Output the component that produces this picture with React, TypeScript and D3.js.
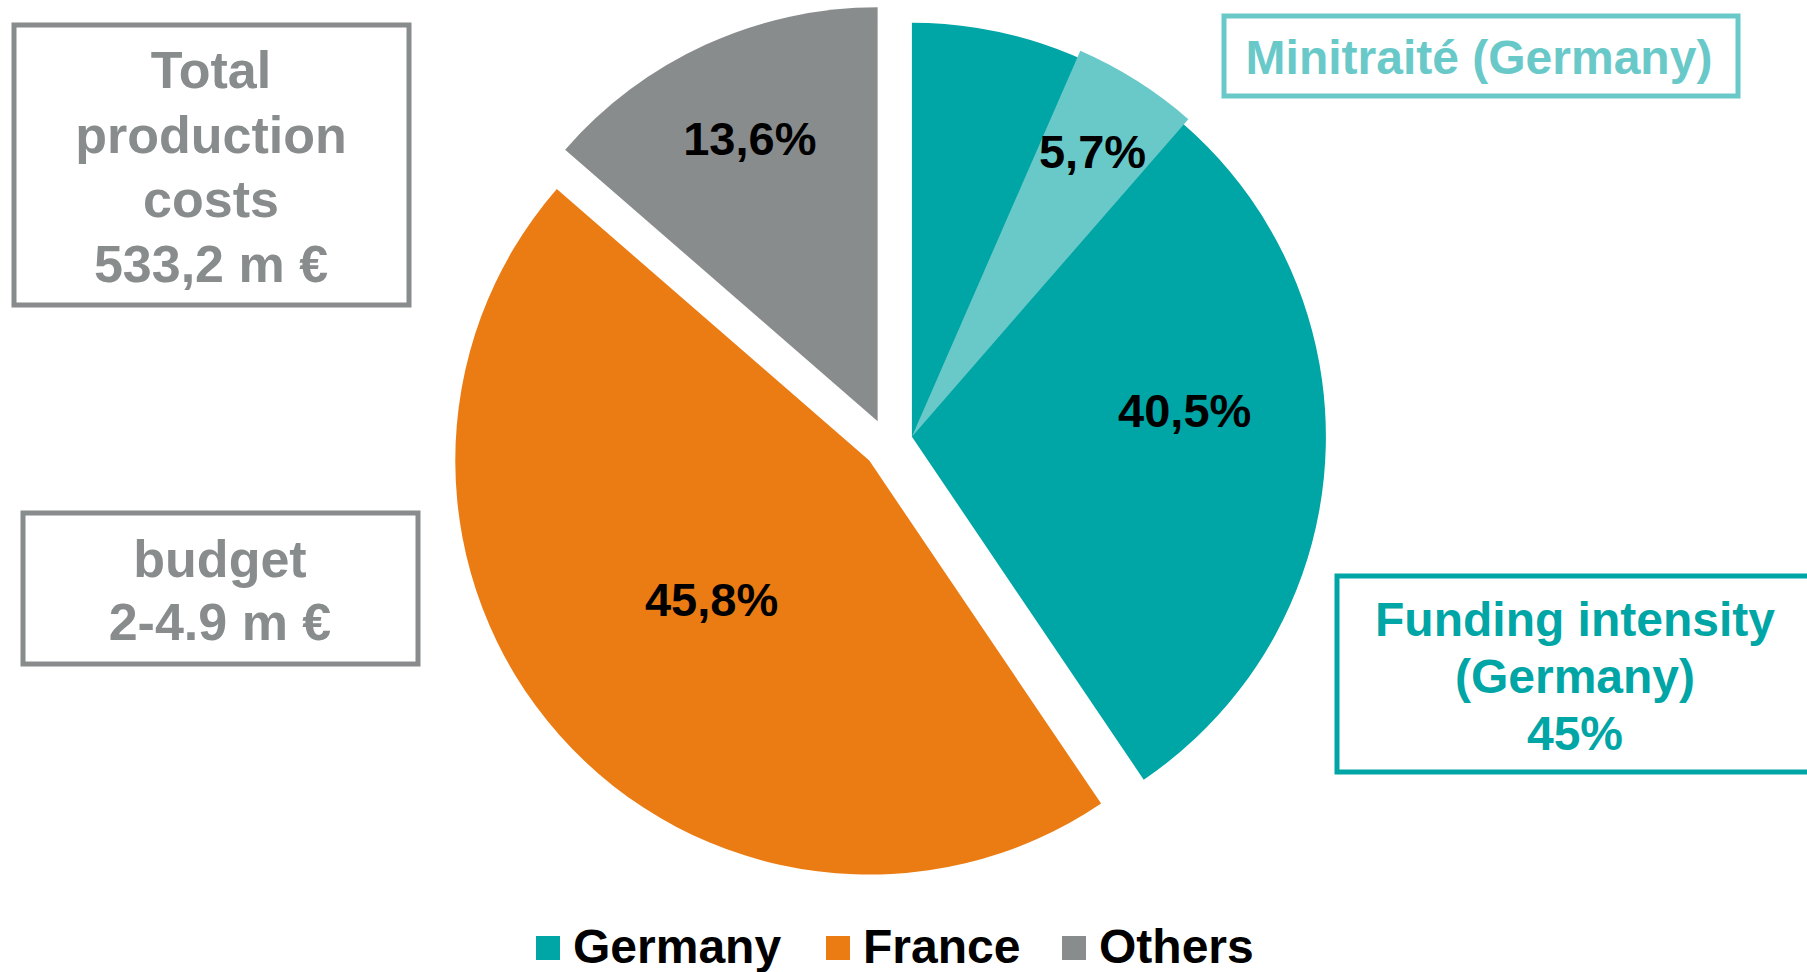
import React from "react";
import * as d3 from "d3";

// ---- data ----
const categories = ["Germany", "France", "Others"];
const shares = [40.5, 45.8, 13.6];
const shareLabels = ["40,5%", "45,8%", "13,6%"];
const colors = ["#00A5A6", "#EB7C14", "#898C8D"];

// Minitraité sub-share inside the Germany slice (as % of full circle)
const minitraiteLabel = "5,7%";
const minitraiteStartPct = 6.55;
const minitraiteEndPct = 11.4;
const minitraiteColor = "#69C9C9";

const totalBoxLines = ["Total", "production", "costs", "533,2 m €"];
const budgetBoxLines = ["budget", "2-4.9 m €"];
const minitraiteBoxLines = ["Minitraité (Germany)"];
const fundingBoxLines = ["Funding intensity", "(Germany)", "45%"];

// ---- layout ----
const W = 1807;
const H = 972;
const CX = 888;
const CY = 444;
const R = 414;
const EXPLODE = 25;
const FONT = "'Liberation Sans', Arial, Helvetica, sans-serif";
// label placement: t = fraction across the slice angle, r = fraction of radius
const labelPlace = [
  { t: 0.579, r: 0.662 },
  { t: 0.5015, r: 0.507 },
  { t: 0.505, r: 0.751 },
];

const polar = (a: number, r: number): [number, number] => [Math.sin(a) * r, -Math.cos(a) * r];

export default function App() {
  const pie = d3
    .pie<number>()
    .sort(null)
    .value((d) => d)
    .startAngle(0)
    .endAngle(2 * Math.PI);
  const arcs = pie(shares);
  const arc = d3.arc<d3.PieArcDatum<number>>().innerRadius(0).outerRadius(R);

  const germany = arcs[0];
  const gMid = (germany.startAngle + germany.endAngle) / 2;
  const [gdx, gdy] = polar(gMid, EXPLODE);

  const wedgeStart = (minitraiteStartPct / 100) * 2 * Math.PI;
  const wedgeEnd = (minitraiteEndPct / 100) * 2 * Math.PI;
  const wedgePath = d3.arc()({
    innerRadius: 0,
    outerRadius: 421,
    startAngle: wedgeStart,
    endAngle: wedgeEnd,
  } as any) as string;
  const [wlx, wly] = polar((wedgeStart + wedgeEnd) / 2, 338);

  const boxText = (lines: string[], x: number, y0: number, step: number, fill: string, size: number) =>
    lines.map((l, i) => (
      <text
        key={i}
        x={x}
        y={y0 + i * step}
        textAnchor="middle"
        fontFamily={FONT}
        fontWeight="bold"
        fontSize={size}
        fill={fill}
      >
        {l}
      </text>
    ));

  const legendX = [536, 826, 1062];

  return (
    <svg
      width={W}
      height={H}
      viewBox={`0 0 ${W} ${H}`}
      style={{ position: "absolute", left: 0, top: 0, background: "#fff" }}
    >
      <rect x={0} y={0} width={W} height={H} fill="#fff" />
      {arcs.map((a, i) => {
        const mid = (a.startAngle + a.endAngle) / 2;
        const [dx, dy] = polar(mid, EXPLODE);
        return (
          <g key={categories[i]} transform={`translate(${CX + dx},${CY + dy})`}>
            <path d={arc(a) as string} fill={colors[i]} />
          </g>
        );
      })}
      <g transform={`translate(${CX + gdx},${CY + gdy})`}>
        <path d={wedgePath} fill={minitraiteColor} />
      </g>
      {arcs.map((a, i) => {
        const mid = (a.startAngle + a.endAngle) / 2;
        const [dx, dy] = polar(mid, EXPLODE);
        const ang = a.startAngle + (a.endAngle - a.startAngle) * labelPlace[i].t;
        const [lx, ly] = polar(ang, R * labelPlace[i].r);
        return (
          <text
            key={"l" + i}
            x={CX + dx + lx}
            y={CY + dy + ly}
            dy="0.36em"
            textAnchor="middle"
            fontFamily={FONT}
            fontWeight="bold"
            fontSize={47}
            fill="#000"
          >
            {shareLabels[i]}
          </text>
        );
      })}
      <text
        x={CX + gdx + wlx}
        y={CY + gdy + wly}
        dy="0.36em"
        textAnchor="middle"
        fontFamily={FONT}
        fontWeight="bold"
        fontSize={47}
        fill="#000"
      >
        {minitraiteLabel}
      </text>

      {/* Boxes */}
      <rect x={14} y={25} width={395} height={280} fill="none" stroke="#888C8C" strokeWidth={5} />
      {boxText(totalBoxLines, 211, 88, 64.5, "#888C8C", 52)}

      <rect x={23} y={513} width={395} height={151} fill="none" stroke="#888C8C" strokeWidth={5} />
      {boxText(budgetBoxLines, 220, 577, 63, "#888C8C", 52)}

      <rect x={1224} y={16} width={514} height={80} fill="none" stroke={minitraiteColor} strokeWidth={5} />
      {boxText(minitraiteBoxLines, 1479, 73.5, 0, minitraiteColor, 48)}

      <rect x={1337} y={576} width={480} height={196} fill="none" stroke="#00A5A6" strokeWidth={5} />
      {boxText(fundingBoxLines, 1575, 636, 57, "#00A5A6", 48)}

      {/* Legend */}
      {categories.map((c, i) => (
        <g key={"lg" + c}>
          <rect x={legendX[i]} y={936} width={24} height={24} fill={colors[i]} />
          <text
            x={legendX[i] + 37}
            y={963}
            fontFamily={FONT}
            fontWeight="bold"
            fontSize={48}
            fill="#000"
          >
            {c}
          </text>
        </g>
      ))}
    </svg>
  );
}
